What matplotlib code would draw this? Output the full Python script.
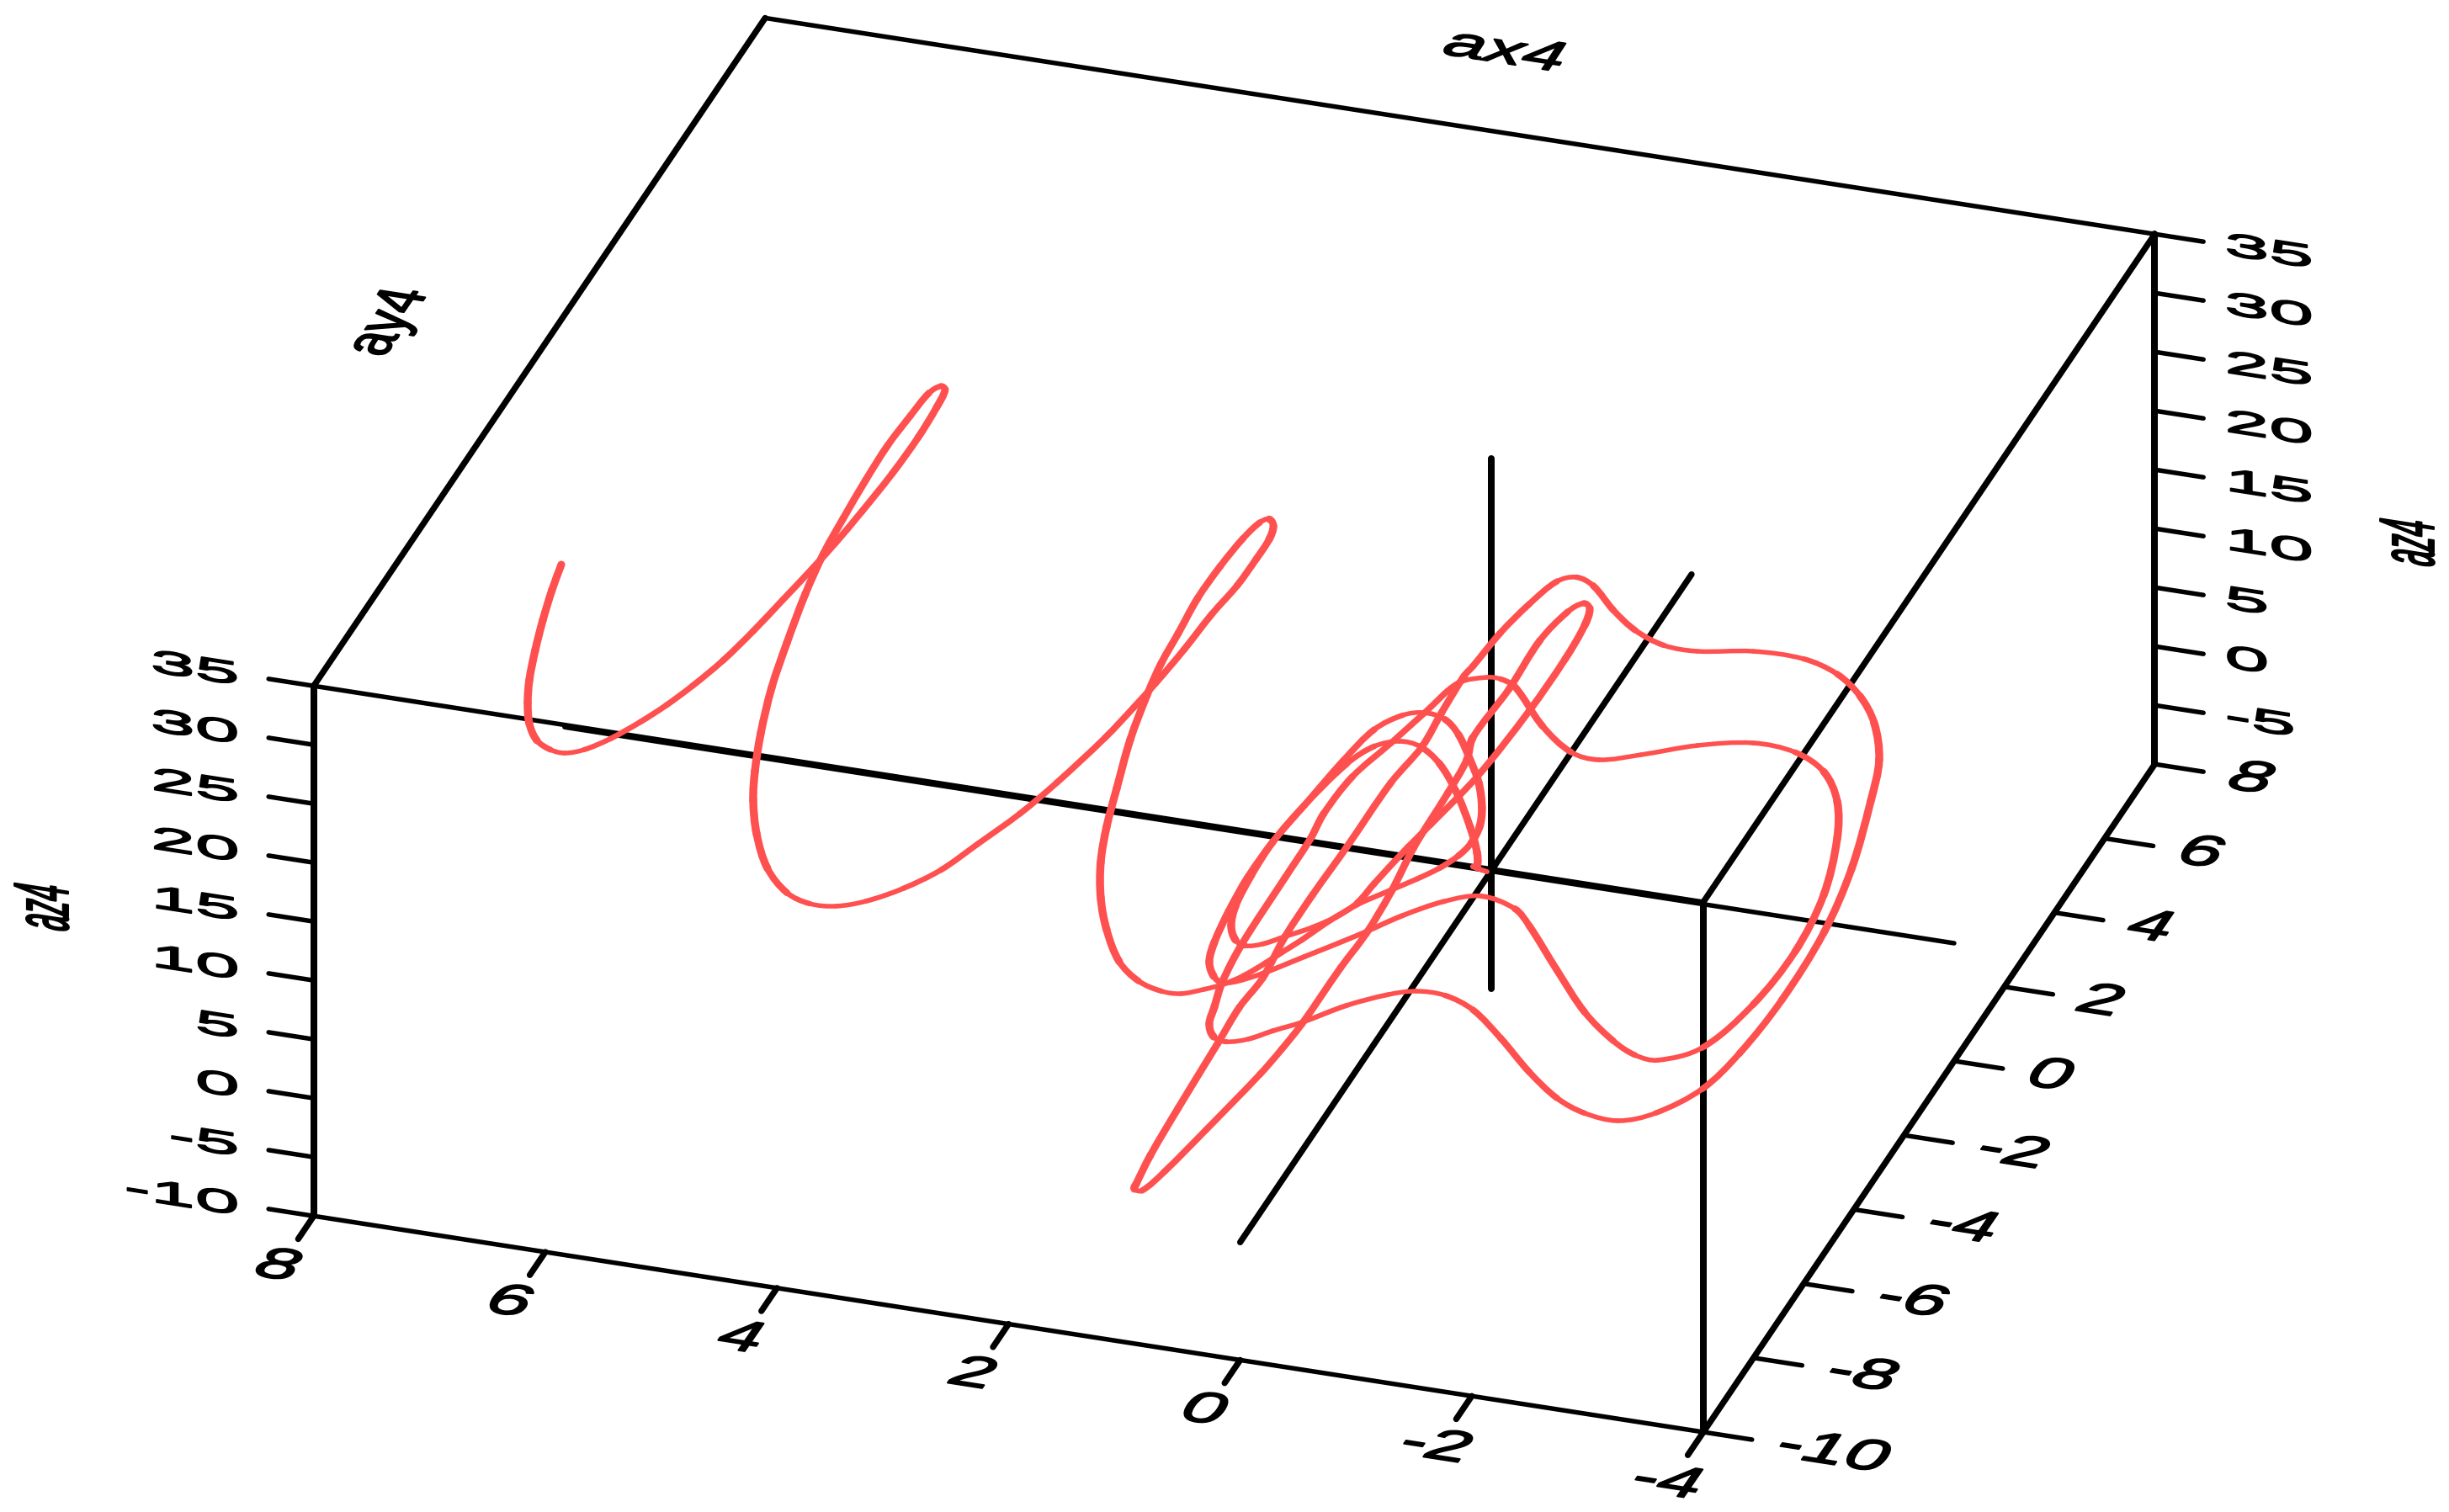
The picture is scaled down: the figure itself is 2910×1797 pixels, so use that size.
import numpy as np
import matplotlib
matplotlib.use('Agg')
import matplotlib.pyplot as plt
from matplotlib.collections import PathCollection
from matplotlib.path import Path
from matplotlib.patheffects import AbstractPathEffect
from matplotlib.transforms import Affine2D

x_ticks = [8, 6, 4, 2, 0, -2, -4]
y_ticks = [-10, -8, -6, -4, -2, 0, 2, 4, 6, 8]
z_ticks = [-10, -5, 0, 5, 10, 15, 20, 25, 30, 35]

# curve. one view can't give depth, so az4 is held at one level
az4_level = 8.0
ax4 = [8.386, 8.325, 8.237, 8.137, 8.027, 7.920, 7.796, 7.648, 7.493, 7.365,
       7.230, 7.084, 6.937, 6.822, 6.720, 6.616, 6.535, 6.469, 6.402, 6.358,
       6.318, 6.281, 6.269, 6.284, 6.311, 6.362, 6.419, 6.444, 6.465, 6.454,
       6.427, 6.396, 6.324, 6.210, 6.093, 5.938, 5.784, 5.642, 5.438, 5.171,
       4.890, 4.655, 4.438, 4.227, 4.005, 3.807, 3.656, 3.487, 3.362,
       3.223, 3.159, 3.116, 3.071, 3.041, 2.994, 2.985, 2.988, 3.026, 3.095,
       3.150, 3.197, 3.228, 3.236, 3.202, 3.177, 3.120, 3.016, 2.864, 2.739,
       2.598, 2.411, 2.196, 1.928, 1.675, 1.444, 1.280, 1.124, 1.000, 0.886,
       0.782, 0.708, 0.617, 0.547, 0.474, 0.370, 0.198, 0.043, -0.077, -0.162,
       -0.194, -0.175, -0.092, 0.067, 0.253, 0.478, 0.663, 0.857, 1.015, 1.162,
       1.239, 1.308, 1.361, 1.371, 1.340, 1.288, 1.225, 1.116, 1.015, 0.921,
       0.748, 0.508, 0.188, -0.043, -0.297, -0.553, -0.883, -1.083, -1.536, -1.975,
       -2.349, -2.596, -2.800, -3.082, -3.250, -3.299, -3.224, -3.032, -2.832, -2.571,
       -2.246, -1.868, -1.447, -1.055, -0.753, -0.496, -0.135, 0.291, 0.443, 0.557,
       0.749, 0.857, 0.960, 1.084, 1.113, 1.084, 1.077, 1.063, 1.015, 0.946,
       0.896, 0.796, 0.671, 0.514, 0.361, 0.182, -0.079, -0.349, -0.548, -0.794,
       -1.087, -1.455, -1.857, -2.211, -2.508, -2.811, -3.060, -3.300, -3.402,
       -3.451, -3.424, -3.304, -3.095, -2.943, -2.708, -2.454, -2.161, -1.818, -1.384,
       -0.950, -0.656, -0.352, -0.074, 0.213, 0.388, 0.517, 0.614, 0.687, 0.726,
       0.743, 0.725, 0.699, 0.751, 0.757, 0.771, 0.766, 0.722, 0.749, 0.728,
       0.695, 0.663, 0.623, 0.610, 0.542, 0.468, 0.363, 0.235, 0.197, 0.173, 0.167,
       0.148, 0.173, 0.231, 0.252, 0.279, 0.349, 0.323, 0.338, 0.272, 0.192,
       0.119, 0.069, 0.043, 0.050, 0.107, 0.220, 0.278, 0.349, 0.379, 0.474,
       0.598, 0.766, 0.904, 1.027, 1.136, 1.245, 1.314, 1.353, 1.361, 1.308,
       1.197, 1.073, 0.903, 0.718, 0.478, 0.201, -0.102, -0.289, -0.364, -0.331,
       -0.470]
ay4 = [1.654, 1.003, 0.229, -0.538, -1.278, -1.838, -2.345, -2.727, -2.901, -2.930,
       -2.773, -2.409, -1.883, -1.374, -0.803, -0.072, 0.761, 1.632, 2.527, 3.228,
       4.087, 5.124, 6.105, 6.915, 7.377, 7.444, 7.235, 6.611, 5.806, 4.882,
       3.851, 2.937, 1.862, 0.601, -0.544, -1.693, -2.639, -3.364, -4.171, -4.972,
       -5.493, -5.673, -5.636, -5.398, -4.950, -4.355, -3.579, -2.681, -1.781,
       -0.511, 0.336, 1.014, 1.943, 2.910, 3.704, 4.433, 4.953, 5.298, 5.446,
       5.329, 4.875, 4.112, 3.246, 2.310, 1.529, 0.694, -0.456, -1.698, -2.680,
       -3.564, -4.426, -5.184, -5.915, -6.314, -6.473, -6.462, -6.273, -6.076, -5.795,
       -5.404, -5.074, -4.690, -4.338, -4.008, -3.617, -3.171, -2.778, -2.425, -2.044,
       -1.688, -1.266, -0.785, -0.182, 0.340, 0.911, 1.229, 1.316, 1.172, 0.715,
       -0.139, -1.397, -2.397, -3.355, -4.269, -5.082, -5.574, -5.907, -6.039, -5.971,
       -5.659, -5.090, -4.322, -3.712, -3.203, -2.943, -3.123, -3.479, -4.461, -5.381,
       -5.971, -6.237, -6.274, -5.797, -4.559, -3.107, -1.623, -0.197, 0.726, 1.393,
       1.756, 1.823, 1.550, 1.110, 0.828, 0.908, 1.435, 2.294, 2.425, 2.415,
       2.163, 1.316, 0.451, -0.517, -1.529, -2.195, -3.234, -5.042, -6.039, -6.662,
       -7.093, -7.384, -7.460, -7.315, -7.014, -6.701, -6.120, -5.694, -5.507, -5.501,
       -5.745, -6.332, -7.049, -7.580, -7.844, -7.901, -7.576, -6.803, -5.800,
       -4.348, -2.547, -0.882, 0.854, 1.890, 2.774, 3.377, 3.824, 4.066, 4.059,
       3.848, 3.865, 4.125, 4.535, 5.054, 5.195, 5.018, 4.359, 3.554, 2.627,
       2.369, 1.380, 0.487, -0.514, -2.263, -3.540, -4.671, -5.783, -6.567, -7.533,
       -9.263, -10.517, -11.268, -11.398, -11.410, -10.876, -9.690, -8.132, -7.433, -6.742, -5.220,
       -4.303, -3.181, -2.008, -0.566, 0.327, 0.883, 2.210, 3.518, 4.322, 4.587,
       4.487, 4.057, 3.163, 1.753, 0.003, -1.390, -2.030, -3.040, -3.576, -4.008,
       -4.340, -4.671, -4.941, -5.046, -4.942, -4.609, -4.121, -3.301, -2.397, -1.397,
       -0.231, 0.305, 0.524, 0.477, 0.140, -0.474, -1.301, -1.892, -2.241, -2.257,
       -2.325]

RED = '#ff5050'
DPI = 100
FONT_PT = 36
EM_PX = FONT_PT * DPI / 72


def project(x, y, z):
    """Orthographic view of the box, result in figure pixels."""
    sx = 1771.6 - 137.6 * x + 29.8 * y
    sy = 1035.4 - 21.4 * x - 44.1 * y - 14.0 * z
    return sx, sy


def pen_width(p0, p1, wide=8.0, thin=5.4):
    # the original pen was stretched, upright strokes come out about twice as thick
    d = np.hypot(p1[0] - p0[0], p1[1] - p0[1])
    if d == 0:
        return wide
    tx, ty = (p1[0] - p0[0]) / d, (p1[1] - p0[1]) / d
    return np.hypot(wide * ty, thin * tx)


class Skew(AbstractPathEffect):
    """Lays text in the plane of the box, baseline and up are pixels per em."""

    def __init__(self, ax, anchor, base, up, stroke=1.4):
        super().__init__()
        self.ax = ax
        self.anchor = anchor
        self.stroke = stroke
        self.mat = np.array([[base[0] / EM_PX, up[0] / EM_PX, 0],
                             [base[1] / EM_PX, up[1] / EM_PX, 0],
                             [0, 0, 1]])

    def draw_path(self, renderer, gc, tpath, affine, rgbFace=None):
        a = self.ax.transData.transform(self.anchor)
        skew = Affine2D().translate(-a[0], -a[1]) + Affine2D(self.mat) + Affine2D().translate(a[0], a[1])
        gc0 = renderer.new_gc()
        gc0.copy_properties(gc)
        gc0.set_linewidth(self.stroke)
        gc0.set_foreground('black')
        renderer.draw_path(gc0, tpath, affine + skew, rgbFace)
        gc0.restore()


def line3d(ax, p, q, wide=8.0, thin=5.4):
    a = project(*p)
    b = project(*q)
    ax.plot([a[0], b[0]], [a[1], b[1]], color='black', solid_capstyle='round',
            lw=pen_width(a, b, wide, thin) * 72 / DPI, zorder=2)


def label(ax, px, py, s, ha, base, up):
    ax.text(px, py, s, ha=ha, va='baseline', fontsize=FONT_PT, family='Liberation Sans',
            color='black', zorder=4, path_effects=[Skew(ax, (px, py), base, up)])


def curve_paths(sx, sy):
    # one bezier per read point pair, the handles follow the neighbouring points
    pts = np.column_stack([sx, sy])
    n = len(pts)
    tang = np.zeros_like(pts)
    for i in range(n):
        a, b = pts[max(i - 1, 0)], pts[min(i + 1, n - 1)]
        tang[i] = (b - a) / max(np.hypot(*(b - a)), 1e-6)
    paths, widths = [], []
    for i in range(n - 1):
        d = np.hypot(*(pts[i + 1] - pts[i]))
        c1 = pts[i] + tang[i] * d / 3
        c2 = pts[i + 1] - tang[i + 1] * d / 3
        paths.append(Path([pts[i], c1, c2, pts[i + 1]],
                          [Path.MOVETO, Path.CURVE4, Path.CURVE4, Path.CURVE4]))
        widths.append(pen_width(pts[i], pts[i + 1], 9.5, 5.4) * 72 / DPI)
    return paths, widths


fig = plt.figure(figsize=(29.10, 17.97), dpi=DPI)
ax = fig.add_axes([0, 0, 1, 1])
ax.set_xlim(0, 2910)
ax.set_ylim(1797, 0)
ax.axis('off')

# box
xmin, xmax, ymin, ymax, zmin, zmax = -4, 8, -10, 8, -10, 35
line3d(ax, (xmax, ymin, zmin), (xmin, ymin, zmin))
line3d(ax, (xmax, ymin, zmax), (xmin, ymin, zmax))
line3d(ax, (xmax, ymax, zmax), (xmin, ymax, zmax))
line3d(ax, (xmax, ymin, zmax), (xmax, ymax, zmax))
line3d(ax, (xmin, ymin, zmax), (xmin, ymax, zmax))
line3d(ax, (xmin, ymin, zmin), (xmin, ymax, zmin))
line3d(ax, (xmax, ymin, zmin), (xmax, ymin, zmax))
line3d(ax, (xmin, ymin, zmin), (xmin, ymin, zmax))
line3d(ax, (xmin, ymax, zmin), (xmin, ymax, zmax))

# axes through the origin
line3d(ax, (xmin, 0, 0), (xmax, 0, 0))
line3d(ax, (0, ymin, 0), (0, ymax, 0))
line3d(ax, (0, 0, zmin), (0, 0, zmax))

# ticks and labels
digits_flat = ((95, -14.8), (0, 38))
digits_skew = ((90, -14), (33, 48))

for v in x_ticks:
    line3d(ax, (v, ymin, zmin), (v, ymin - 0.62, zmin))
    sx, sy = project(v, ymin, zmin)
    label(ax, sx - 52, sy + 73, str(v), 'center', *digits_skew)

for v in y_ticks:
    line3d(ax, (xmin, v, zmin), (xmin - 0.42, v, zmin))
    sx, sy = project(xmin, v, zmin)
    label(ax, sx + 80, sy + 27, str(v), 'left', *digits_skew)

for v in z_ticks:
    line3d(ax, (xmax, ymin, v), (xmax + 0.39, ymin, v))
    sx, sy = project(xmax, ymin, v)
    label(ax, sx - 88, sy - 1, str(v), 'right', *digits_flat)
    if v > zmin:
        line3d(ax, (xmin, ymax, v), (xmin - 0.42, ymax, v))
        sx, sy = project(xmin, ymax, v)
        label(ax, sx + 83, sy + 24, str(v), 'left', *digits_flat)

# axis titles
label(ax, 1780, 74, 'ax4', 'center', (88, -13.6), (30, 46))
label(ax, 483, 386, 'ay4', 'center', (33, 48), (-78, 12))
label(ax, 81, 1082, 'az4', 'center', (0, 33), (-93, 14.4))
label(ax, 2892, 622, 'az4', 'right', (0, 33), (-93, 14.4))

# curve
sx4, sy4 = project(np.array(ax4), np.array(ay4), az4_level)
paths, widths = curve_paths(sx4, sy4)
ax.add_collection(PathCollection(paths, facecolors='none', edgecolors=RED, linewidths=widths,
                                 capstyle='round', transform=ax.transData, zorder=3))

fig.savefig('out.png', dpi=DPI)
